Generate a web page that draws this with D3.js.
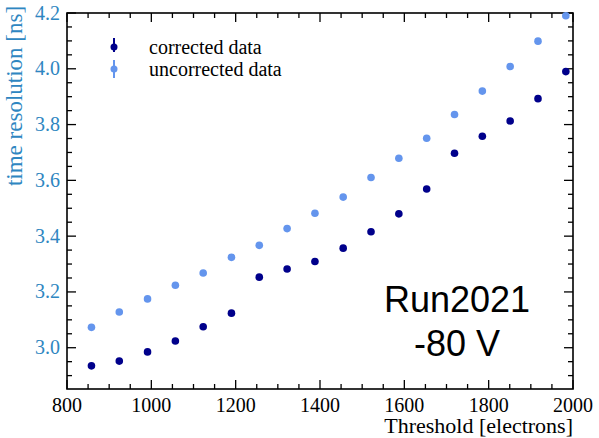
<!DOCTYPE html>
<html>
<head>
<meta charset="utf-8">
<script src="https://cdn.jsdelivr.net/npm/d3@7"></script>
<style>
  body { margin: 0; background: #fff; }
</style>
</head>
<body>
<div id="chart"></div>
<script>
// threshold values (electrons)
const thresholds = [858, 924, 991, 1057, 1123, 1190, 1256, 1322, 1388, 1455, 1521, 1587, 1653, 1719, 1785, 1851, 1917, 1983];
// time resolution [ns]
const corrected = [2.935, 2.952, 2.985, 3.024, 3.075, 3.124, 3.253, 3.282, 3.309, 3.357, 3.416, 3.480, 3.569, 3.697, 3.758, 3.813, 3.893, 3.990];
const uncorrected = [3.073, 3.128, 3.175, 3.224, 3.268, 3.324, 3.367, 3.427, 3.482, 3.540, 3.610, 3.679, 3.751, 3.836, 3.920, 4.008, 4.099, 4.190];
const xTicks = [800, 1000, 1200, 1400, 1600, 1800, 2000];
const yTicks = [3.0, 3.2, 3.4, 3.6, 3.8, 4.0, 4.2];
const seriesNames = ['corrected data', 'uncorrected data'];

const width = 599, height = 438;
const margin = { left: 67, right: 26, top: 13, bottom: 49 };
const darkCol = '#00008b', lightCol = '#6495ed', axisBlue = '#2e86c1';
const serif = "'Liberation Serif', 'Times New Roman', Times, serif";
const sans = "'Liberation Sans', Arial, Helvetica, sans-serif";

const svg = d3.select('#chart').append('svg')
    .attr('width', width)
    .attr('height', height)
    .style('font-family', serif);

const x = d3.scaleLinear().domain([800, 2000]).range([margin.left, width - margin.right]);
const y = d3.scaleLinear().domain([2.852, 4.2]).range([height - margin.bottom, margin.top]);

const x0 = margin.left, x1 = width - margin.right;
const y0 = height - margin.bottom, y1 = margin.top;

// ticks (inward on all sides)
const xMinor = d3.range(800, 2001, 50);
const yMinor = d3.range(2.9, 4.2001, 0.05).map(v => +v.toFixed(2));
const isMajorX = v => v % 200 === 0;
const isMajorY = v => Math.abs(v * 5 - Math.round(v * 5)) < 1e-6;

const tg = svg.append('g').attr('stroke', '#000').attr('stroke-width', 1.3);
xMinor.forEach(v => {
    const L = isMajorX(v) ? 9 : 5;
    tg.append('line').attr('x1', x(v)).attr('x2', x(v)).attr('y1', y0).attr('y2', y0 - L);
    tg.append('line').attr('x1', x(v)).attr('x2', x(v)).attr('y1', y1).attr('y2', y1 + L);
});
yMinor.forEach(v => {
    const L = isMajorY(v) ? 9 : 5;
    tg.append('line').attr('y1', y(v)).attr('y2', y(v)).attr('x1', x0).attr('x2', x0 + L);
    tg.append('line').attr('y1', y(v)).attr('y2', y(v)).attr('x1', x1).attr('x2', x1 - L);
});

svg.append('rect')
    .attr('x', x0).attr('y', y1)
    .attr('width', x1 - x0).attr('height', y0 - y1)
    .attr('fill', 'none').attr('stroke', '#000').attr('stroke-width', 1.6);

// tick labels
svg.append('g').selectAll('text')
    .data(xTicks)
    .join('text')
    .attr('x', d => x(d))
    .attr('y', y0 + 23)
    .attr('text-anchor', 'middle')
    .attr('font-size', 20)
    .style('font-family', serif)
    .attr('fill', '#000')
    .text(d => d);

svg.append('g').selectAll('text')
    .data(yTicks)
    .join('text')
    .attr('x', x0 - 7)
    .attr('y', d => y(d) + 6.5)
    .attr('text-anchor', 'end')
    .attr('font-size', 20)
    .style('font-family', serif)
    .attr('fill', axisBlue)
    .text(d => d.toFixed(1));

// axis titles
svg.append('text')
    .attr('x', x1)
    .attr('y', 433)
    .attr('text-anchor', 'end')
    .attr('font-size', 22)
    .style('font-family', serif)
    .attr('fill', '#000')
    .text('Threshold [electrons]');

svg.append('text')
    .attr('transform', 'translate(22,96) rotate(-90)')
    .attr('text-anchor', 'middle')
    .attr('font-size', 23)
    .style('font-family', serif)
    .attr('fill', axisBlue)
    .text('time resolution [ns]');

// data points
svg.append('g').selectAll('circle')
    .data(thresholds.map((t, i) => [t, uncorrected[i]]))
    .join('circle')
    .attr('cx', d => x(d[0]))
    .attr('cy', d => y(d[1]))
    .attr('r', 3.8)
    .attr('fill', lightCol);

svg.append('g').selectAll('circle')
    .data(thresholds.map((t, i) => [t, corrected[i]]))
    .join('circle')
    .attr('cx', d => x(d[0]))
    .attr('cy', d => y(d[1]))
    .attr('r', 3.8)
    .attr('fill', darkCol);

// legend
const legend = svg.append('g');
[darkCol, lightCol].forEach((c, i) => {
    const ly = 47 + i * 22;
    legend.append('line')
        .attr('x1', 114).attr('x2', 114)
        .attr('y1', ly - 9).attr('y2', ly + (i === 0 ? 5 : 9))
        .attr('stroke', c).attr('stroke-width', 2);
    legend.append('circle')
        .attr('cx', 114).attr('cy', ly)
        .attr('r', 3.5).attr('fill', c);
    legend.append('text')
        .attr('x', 149).attr('y', ly + 7)
        .attr('font-size', 20)
        .style('font-family', serif)
        .attr('fill', '#000')
        .text(seriesNames[i]);
});

// annotation
const ann = svg.append('g')
    .attr('font-size', 36)
    .attr('text-anchor', 'middle')
    .attr('fill', '#000');
ann.append('text').attr('x', 457).attr('y', 312)
    .style('font-family', sans).text('Run2021');
ann.append('text').attr('x', 457).attr('y', 356)
    .style('font-family', sans).text('-80 V');
</script>
</body>
</html>
